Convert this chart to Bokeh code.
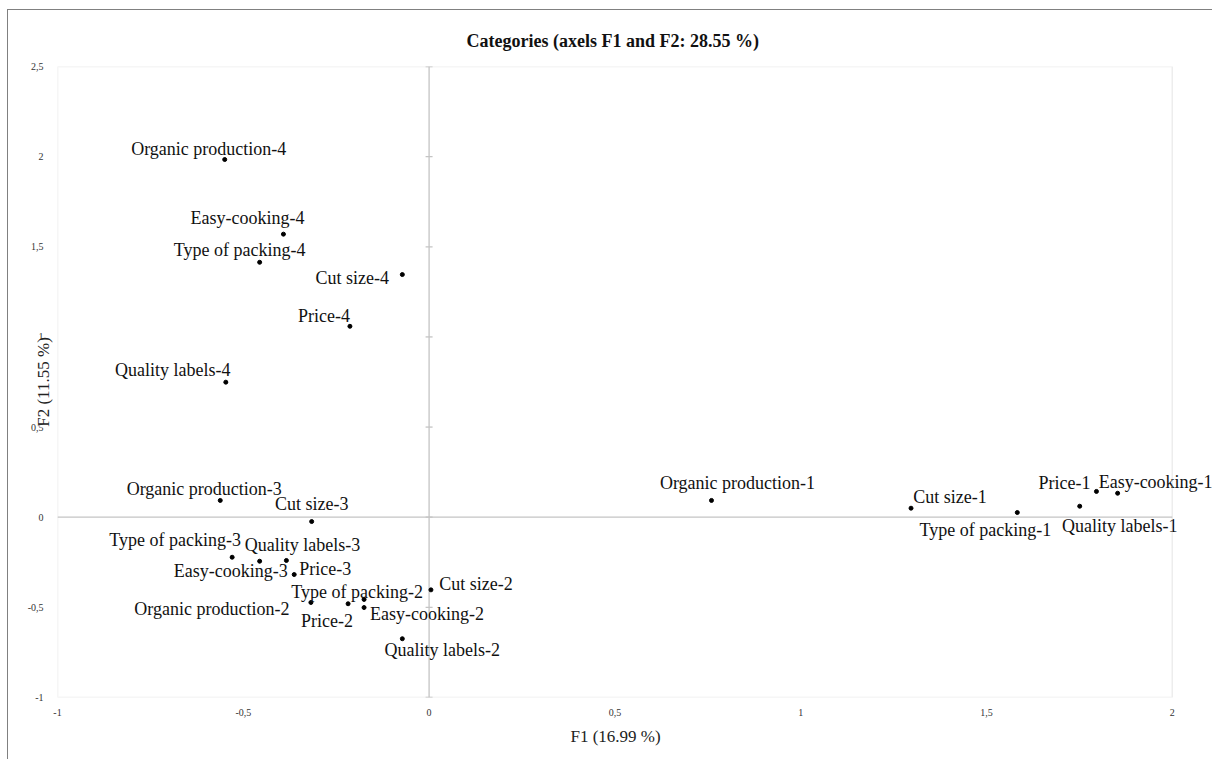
from bokeh.plotting import figure
from bokeh.models import Range1d, FixedTicker, BoxAnnotation, Title, ColumnDataSource
from bokeh.core.properties import value
from bokeh.embed import file_html
from bokeh.resources import INLINE

# Category coordinates on the first two factorial axes
categories = [
    "Organic production-4", "Easy-cooking-4", "Type of packing-4", "Cut size-4",
    "Price-4", "Quality labels-4",
    "Organic production-3", "Cut size-3", "Type of packing-3", "Easy-cooking-3",
    "Quality labels-3", "Price-3",
    "Cut size-2", "Type of packing-2", "Organic production-2", "Price-2",
    "Easy-cooking-2", "Quality labels-2",
    "Organic production-1", "Cut size-1", "Type of packing-1", "Quality labels-1",
    "Price-1", "Easy-cooking-1",
]
f1 = [
    -0.550, -0.392, -0.456, -0.072, -0.213, -0.547,
    -0.562, -0.316, -0.530, -0.456, -0.384, -0.363,
    0.005, -0.175, -0.318, -0.218, -0.175, -0.072,
    0.760, 1.297, 1.583, 1.751, 1.796, 1.853,
]
f2 = [
    1.984, 1.570, 1.414, 1.346, 1.059, 0.749,
    0.093, -0.024, -0.222, -0.244, -0.240, -0.318,
    -0.403, -0.456, -0.473, -0.480, -0.501, -0.674,
    0.093, 0.050, 0.026, 0.061, 0.143, 0.133,
]

x_ticks = [-1, -0.5, 0, 0.5, 1, 1.5, 2]
x_tick_labels = ["-1", "-0,5", "0", "0,5", "1", "1,5", "2"]
y_ticks = [-1, -0.5, 0, 0.5, 1, 1.5, 2, 2.5]
y_tick_labels = ["-1", "-0,5", "0", "0,5", "1", "1,5", "2", "2,5"]

# Pixel offsets of each label from its point (placement only)
label_dx = [-16, -36, -20, -50, -26, -53,
            -16, 0, -57, -29, 16, 31,
            45, -7, -99, -21, 63, 40,
            26, 39, -32, 40, -32, 38]
label_dy = [-11, -16, -12, 3, -10, -12,
            -11, -18, -17, 10, -15, -6,
            -6, -7, 7, 17, 6, 11,
            -17, -11, 17, 20, -8, -11]

SERIF = "Liberation Serif"
FRAME = "#c4c4c4"

src = ColumnDataSource(dict(x=f1, y=f2, name=categories, dx=label_dx, dy=label_dy))

# the page keeps a thin grey border on the top and left edges
p = figure(
    width=1205, height=750, output_backend="svg", toolbar_location=None,
    x_range=Range1d(-1, 2.111), y_range=Range1d(-1, 2.5),
    min_border_left=49, min_border_right=0, min_border_top=56, min_border_bottom=63,
)
p.styles = {"margin-left": "7px", "margin-top": "9px",
            "border-left": "1px solid #808080", "border-top": "1px solid #808080"}
p.outline_line_color = None
p.grid.visible = False
p.background_fill_color = "white"
p.border_fill_color = "white"

for ax, ticks, labels in ((p.xaxis, x_ticks, x_tick_labels), (p.yaxis, y_ticks, y_tick_labels)):
    ax.ticker = FixedTicker(ticks=ticks)
    ax.major_label_overrides = dict(zip(ticks, labels))
    ax.axis_line_color = None
    ax.major_tick_line_color = None
    ax.minor_tick_line_color = None
    ax.major_label_text_font = SERIF
    ax.major_label_text_font_size = "10px"
    ax.major_label_text_color = "#333333"
    ax.axis_label_text_font = SERIF
    ax.axis_label_text_font_style = "normal"
    ax.axis_label_text_font_size = "17px"
    ax.axis_label_text_color = "#222222"

p.xaxis.major_label_standoff = 5
p.yaxis.axis_label = "F2 (11.55 %)"
p.yaxis.major_label_standoff = 8
p.yaxis.axis_label_standoff = -28

# title above and horizontal axis title below, placed over the plot box
p.title.text = "Categories (axels F1 and F2: 28.55 %)"
p.title.align = "left"
p.title.offset = 409
p.title.standoff = 32
p.title.text_font = SERIF
p.title.text_font_style = "bold"
p.title.text_font_size = "18px"
p.title.text_color = "#111111"

p.add_layout(Title(text="F1 (16.99 %)", align="left", offset=513, standoff=13,
                   text_font=SERIF, text_font_style="normal", text_font_size="17px",
                   text_color="#222222"), "below")

# plot box
p.add_layout(BoxAnnotation(left=x_ticks[0], right=x_ticks[-1], bottom=y_ticks[0], top=y_ticks[-1],
                           fill_alpha=0, line_color=FRAME, line_width=1.5))
# central axes through the origin
p.segment(x0=[x_ticks[0], 0], y0=[0, y_ticks[0]], x1=[x_ticks[-1], 0], y1=[0, y_ticks[-1]],
          line_color=FRAME, line_width=1.3)
p.scatter(x=[0] * len(y_ticks), y=y_ticks, marker="dash", size=7, line_color=FRAME, line_width=1.3)

# points and their names
p.scatter("x", "y", source=src, size=4, color="black")
p.text("x", "y", text="name", source=src, x_offset="dx", y_offset="dy",
       text_align="center", text_baseline="middle",
       text_font=value(SERIF), text_font_size="18px", text_color="#111111")

open("out.html", "w").write(file_html(p, INLINE))
